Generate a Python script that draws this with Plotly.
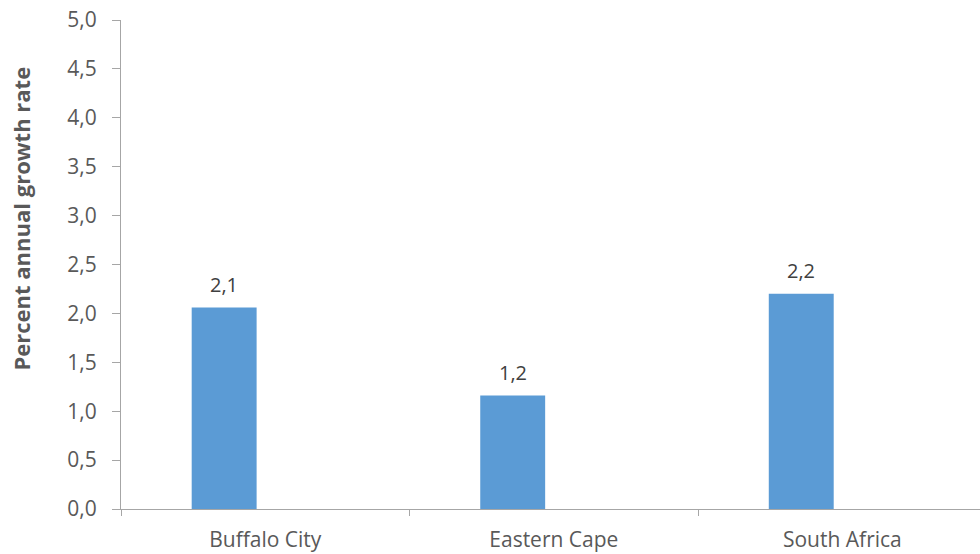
import plotly.graph_objects as go

# Average annual growth rate by area
areas = ["Buffalo City", "Eastern Cape", "South Africa"]
growth = [2.06, 1.16, 2.2]
y_ticks = [0, 0.5, 1.0, 1.5, 2.0, 2.5, 3.0, 3.5, 4.0, 4.5, 5.0]

text_color = "#595959"
axis_color = "#a6a6a6"
font_family = "Open Sans, Liberation Sans, sans-serif"

fig = go.Figure()
fig.add_trace(go.Bar(
    x=areas,
    y=growth,
    marker=dict(color="#5B9BD5", line=dict(width=0)),
    width=0.225,
    offset=-0.255,
    hoverinfo="x+y",
))

# value labels above each bar, one decimal with comma separator
for a, v in zip(areas, growth):
    fig.add_annotation(
        x=a, y=v, text=f"{v:.1f}".replace(".", ","),
        xshift=-41, yshift=23,
        showarrow=False,
        font=dict(family=font_family, size=20, color="#404040"),
    )

# rotated axis title placed at the far left
fig.add_annotation(
    text="<b>Percent annual growth rate</b>",
    xref="paper", yref="paper",
    x=0, y=0.5, xshift=-101, yshift=46,
    xanchor="center", yanchor="middle",
    textangle=-90, showarrow=False,
    font=dict(family=font_family, size=22, color=text_color),
)

fig.update_layout(
    width=980, height=554,
    margin=dict(l=121, r=0, t=20, b=45),
    paper_bgcolor="white", plot_bgcolor="white",
    separators=", ",
    showlegend=False,
    font=dict(family=font_family, size=21, color=text_color),
)
fig.update_xaxes(
    range=[-0.5, 2.477],
    showgrid=False,
    showline=True, linecolor=axis_color, linewidth=1,
    ticks="outside", ticklen=6, tickcolor=axis_color,
    tickson="boundaries",
    ticklabelstandoff=12,
    tickfont=dict(family=font_family, size=21, color=text_color),
)
fig.update_yaxes(
    range=[0, 5],
    tickvals=y_ticks,
    tickformat=".1f",
    showgrid=False, zeroline=False,
    showline=True, linecolor=axis_color, linewidth=1,
    ticks="outside", ticklen=8, tickcolor=axis_color,
    ticklabelstandoff=11,
    tickfont=dict(family=font_family, size=21, color=text_color),
)

fig.write_html("out.html")
